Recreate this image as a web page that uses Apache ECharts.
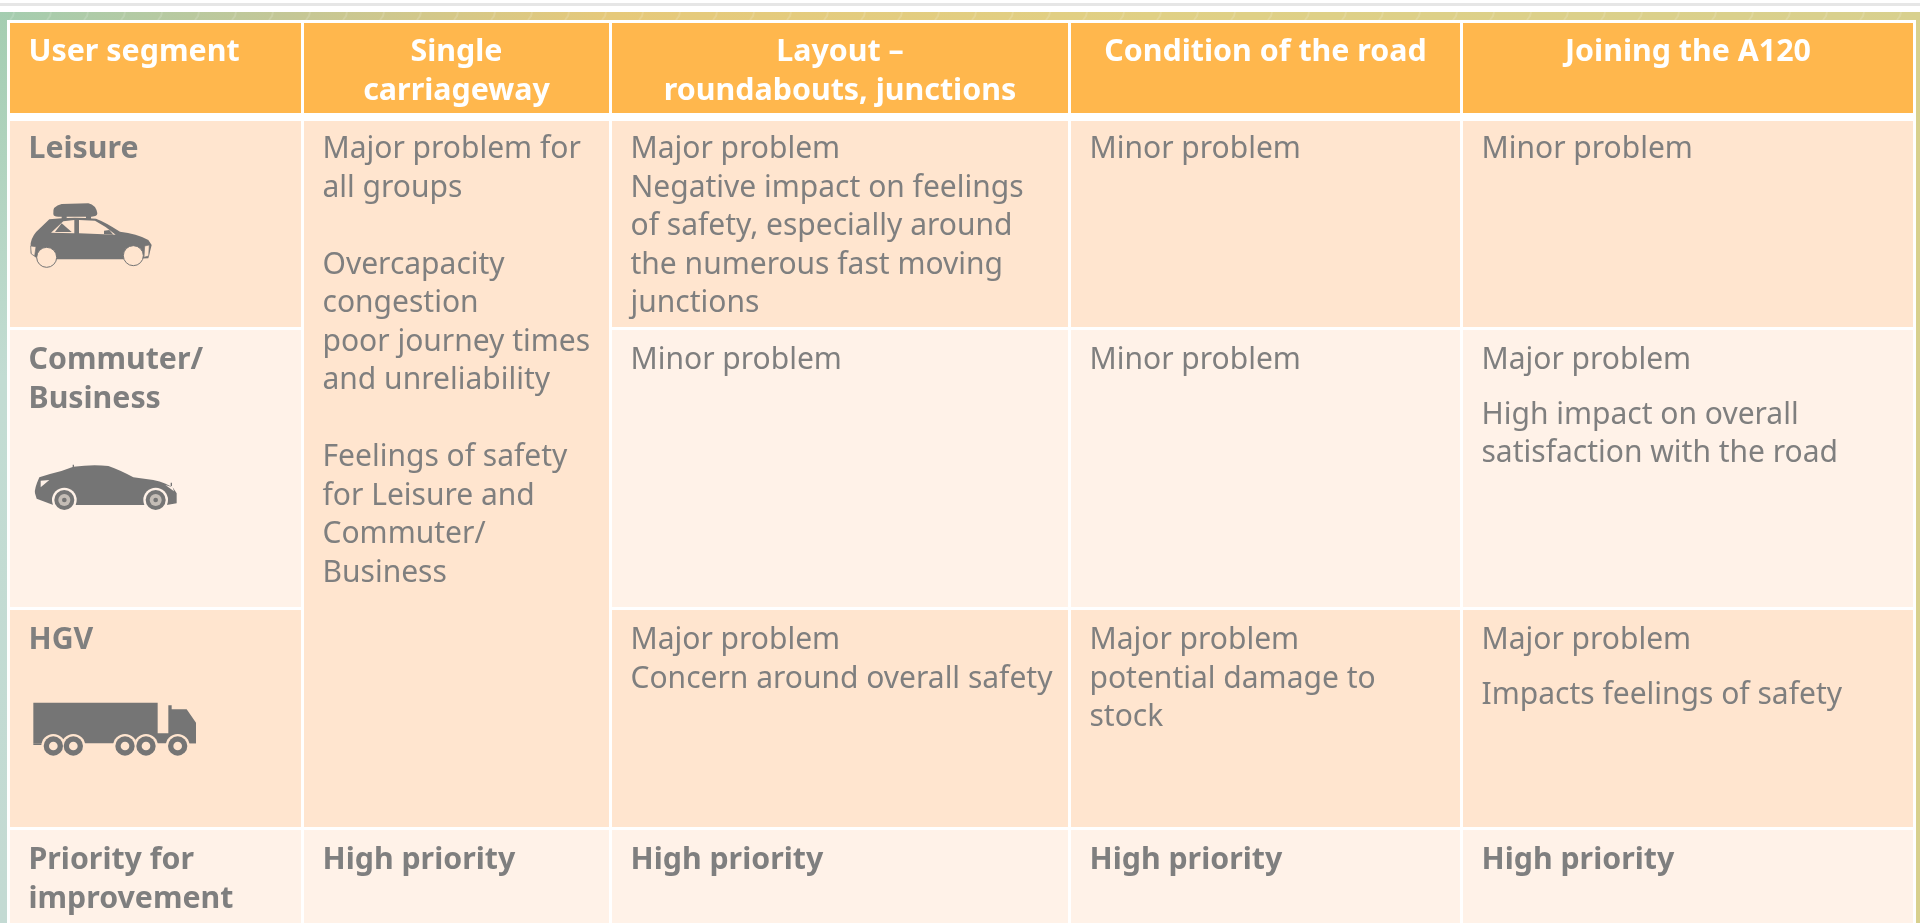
<!DOCTYPE html>
<html>
<head>
<meta charset="utf-8">
<style>html,body{margin:0;padding:0;background:#fff}#chart{width:1920px;height:923px}</style>
<script src="https://cdn.jsdelivr.net/npm/echarts@6/dist/echarts.min.js"></script>
</head>
<body>
<div id="chart"></div>
<script>
const columns = ['User segment', 'Single\ncarriageway', 'Layout \u2013\nroundabouts, junctions', 'Condition of the road', 'Joining the A120'];
const segments = ['Leisure', 'Commuter/\nBusiness', 'HGV', 'Priority for\nimprovement'];
const singleCarriageway = 'Major problem for\nall groups\n\nOvercapacity\ncongestion\npoor journey times\nand unreliability\n\nFeelings of safety\nfor Leisure and\nCommuter/\nBusiness';
const layoutText = [
  'Major problem\nNegative impact on feelings\nof safety, especially around\nthe numerous fast moving\njunctions',
  'Minor problem',
  'Major problem\nConcern around overall safety'
];
const conditionText = ['Minor problem', 'Minor problem', 'Major problem\npotential damage to\nstock'];
const joiningText = ['Minor problem', 'Major problem\n\nHigh impact on overall\nsatisfaction with the road', 'Major problem\n\nImpacts feelings of safety'];
const priorityText = ['High priority', 'High priority', 'High priority', 'High priority'];

// table geometry, px
const colWidths = [294, 308, 459, 392, 453];
const rowHeights = [96, 211, 280, 220, 100];

const grey = '#7f7f7f', headColor = '#ffb74d', darkRow = '#ffe5cf', lightRow = '#fff2e8';
const fontFamily = 'Noto Sans';

let chart = echarts.init(document.getElementById('chart'));

function cell(col, row, text, fill, label) {
  return {coord: [col, row], value: text, itemStyle: {color: fill}, label: label || {}};
}
const boldLabel = {fontWeight: 'bold', fontSize: 30.3};
const rowFill = [darkRow, lightRow, darkRow];

let body = [];
columns.forEach((c, i) => {
  body.push(cell(i, 0, c, headColor, {
    fontWeight: 'bold', fontSize: 30.4, lineHeight: 39, color: '#fff',
    position: i == 0 ? 'insideTopLeft' : 'insideTop',
    align: i == 0 ? 'left' : 'center',
    padding: i == 0 ? [11, 0, 0, 20] : [11, 0, 0, 0]
  }));
});
segments.forEach((s, i) => {
  body.push(cell(0, i + 1, s, i % 2 ? lightRow : darkRow, boldLabel));
});
body.push(Object.assign(cell(1, [1, 3], singleCarriageway, darkRow), {mergeCells: true}));
for (let i = 0; i < 3; i++) {
  body.push(cell(2, i + 1, layoutText[i], rowFill[i]));
  body.push(cell(3, i + 1, conditionText[i], rowFill[i]));
  // joining column has a half line between its paragraphs
  body.push(cell(4, i + 1, joiningText[i].replace('\n\n', '\n{gap| }\n'), rowFill[i]));
}
priorityText.forEach((p, i) => {
  body.push(cell(i + 1, 4, p, lightRow, boldLabel));
});

function circle(cx, cy, r) {
  return 'M' + (cx - r) + ' ' + cy + 'A' + r + ' ' + r + ' 0 1 1 ' + (cx + r) + ' ' + cy + 'A' + r + ' ' + r + ' 0 1 1 ' + (cx - r) + ' ' + cy + 'Z';
}
const iconGrey = '#757575';

const leisureCar = [
  ['M100 72Q96 48 125 42L205 40Q228 45 232 70Q232 80 215 80L115 80Q100 80 100 72Z', iconGrey],
  ['M125 78L140 78L140 88L125 88ZM198 78L213 78L213 88L198 88Z', iconGrey],
  ['M32 160Q36 135 60 115L88 88Q150 80 228 86Q255 96 300 125Q350 130 385 150L395 165L385 205L310 208L110 208L50 205L32 190Z', iconGrey],
  ['M93 128L130 94L163 90L163 130Z', darkRow],
  ['M105 126L125 100L155 126Z', iconGrey],
  ['M177 90L225 92Q260 110 287 134L177 130Z', darkRow],
  ['M252 122L268 120L280 134L252 132Z', iconGrey],
  ['M32 168L48 170L44 198L34 192Z', darkRow, iconGrey, 2],
  ['M388 165L374 168L372 202L386 198Z', darkRow, iconGrey, 2],
  [circle(80, 202, 30), darkRow, iconGrey, 3],
  [circle(340, 197, 30), darkRow, iconGrey, 3]
];
const commuterCar = [
  ['M45 130Q42 118 58 82L90 72Q125 64 160 50Q220 42 265 48Q300 60 340 82L400 90Q440 98 460 115L470 130L470 160L440 165L100 165L50 146Z', iconGrey],
  ['M158 44L162 44L162 52L158 52ZM452 98L456 98L456 108L452 108Z', iconGrey],
  ['M62 92L88 90L62 112Z', lightRow],
  ['M436 105L458 112L462 124Z', lightRow],
  [circle(133, 150, 37), lightRow],
  [circle(407, 150, 37), lightRow],
  [circle(133, 150, 30), iconGrey],
  [circle(407, 150, 30), iconGrey],
  [circle(133, 150, 18), '#c4bdb6'],
  [circle(407, 150, 18), '#c4bdb6'],
  [circle(133, 150, 7), iconGrey],
  [circle(407, 150, 7), iconGrey]
];
const truckWheels = [100, 160, 315, 378, 473];
const hgvTruck = [
  ['M40 38L413 38L413 130L445 130L445 46L455 46L455 58L500 58L528 98L528 160L40 160Z', iconGrey],
  ['M40 160L40 165L70 165L70 160ZM500 160L528 160L528 156L500 156Z', iconGrey]
].concat(truckWheels.map(cx => [circle(cx, 168, 36), darkRow]))
 .concat(truckWheels.map(cx => [circle(cx, 168, 29), iconGrey]))
 .concat(truckWheels.map(cx => [circle(cx, 168, 13), darkRow]));

const icons = [
  {x: 20, y: 190, parts: leisureCar},
  {x: 20, y: 450, parts: commuterCar},
  {x: 20, y: 690, parts: hgvTruck}
];

// pale wisps on the strip above the table
let wisps = [];
for (let x = 10; x < 1920; x += 37) {
  wisps.push({
    type: 'polyline', z: -1,
    shape: {points: [[x, 20], [x + 3, 16], [x + 4, 12]]},
    style: {stroke: '#fff', lineWidth: 2, opacity: 0.14, fill: null}
  });
}

chart.setOption({
  animation: false,
  graphic: [
    {type: 'rect', shape: {x: 0, y: 3, width: 1920, height: 3}, style: {fill: '#e6e6e6'}, z: -2},
    {type: 'rect', shape: {x: 0, y: 12, width: 1920, height: 911}, z: -2, style: {
      fill: new echarts.graphic.LinearGradient(0, 0, 1, 0, [
        {offset: 0, color: '#a4cdb0'}, {offset: 0.15, color: '#c4c796'}, {offset: 0.32, color: '#e6c97a'},
        {offset: 0.6, color: '#e0d085'}, {offset: 1, color: '#d8d08e'}
      ])
    }},
    {type: 'rect', shape: {x: 0, y: 12, width: 8, height: 911}, z: -1, style: {
      fill: new echarts.graphic.LinearGradient(0, 0, 0, 1, [
        {offset: 0, color: '#a4cdb0'}, {offset: 0.4, color: '#c2dcd3'}, {offset: 1, color: '#c3dad3'}
      ])
    }},
    // wide white line below the header row
    {type: 'rect', shape: {x: 8, y: 113, width: 1907, height: 8}, style: {fill: '#fff'}, z: 9}
  ].concat(wisps),
  matrix: {
    z: 1,
    left: 8.5, top: 21, width: 1906, height: 907,
    backgroundStyle: {color: 'transparent', borderWidth: 0},
    x: {show: false, data: columns.map((c, i) => ({value: c, size: colWidths[i]}))},
    y: {show: false, data: rowHeights.map((h, i) => ({value: String(i), size: h}))},
    body: {
      data: body,
      itemStyle: {borderColor: '#fff', borderWidth: 3},
      label: {
        position: 'insideTopLeft', distance: 0, overflow: 'none',
        fontFamily: fontFamily, fontSize: 30, lineHeight: 38.5, color: grey,
        align: 'left', verticalAlign: 'top', padding: [13, 0, 0, 20],
        rich: {gap: {lineHeight: 16, fontSize: 10}}
      }
    }
  },
  series: [{
    type: 'custom',
    coordinateSystem: 'none',
    silent: true,
    z: 10,
    data: icons.map((d, i) => i),
    renderItem: function (params) {
      let d = icons[params.dataIndex];
      return {
        type: 'group', x: d.x, y: d.y, scaleX: 1 / 3, scaleY: 1 / 3,
        children: d.parts.map(p => ({
          type: 'path',
          shape: {pathData: p[0]},
          style: {fill: p[1], stroke: p[2] || null, lineWidth: p[3] || 0}
        }))
      };
    }
  }]
});
</script>
</body>
</html>
